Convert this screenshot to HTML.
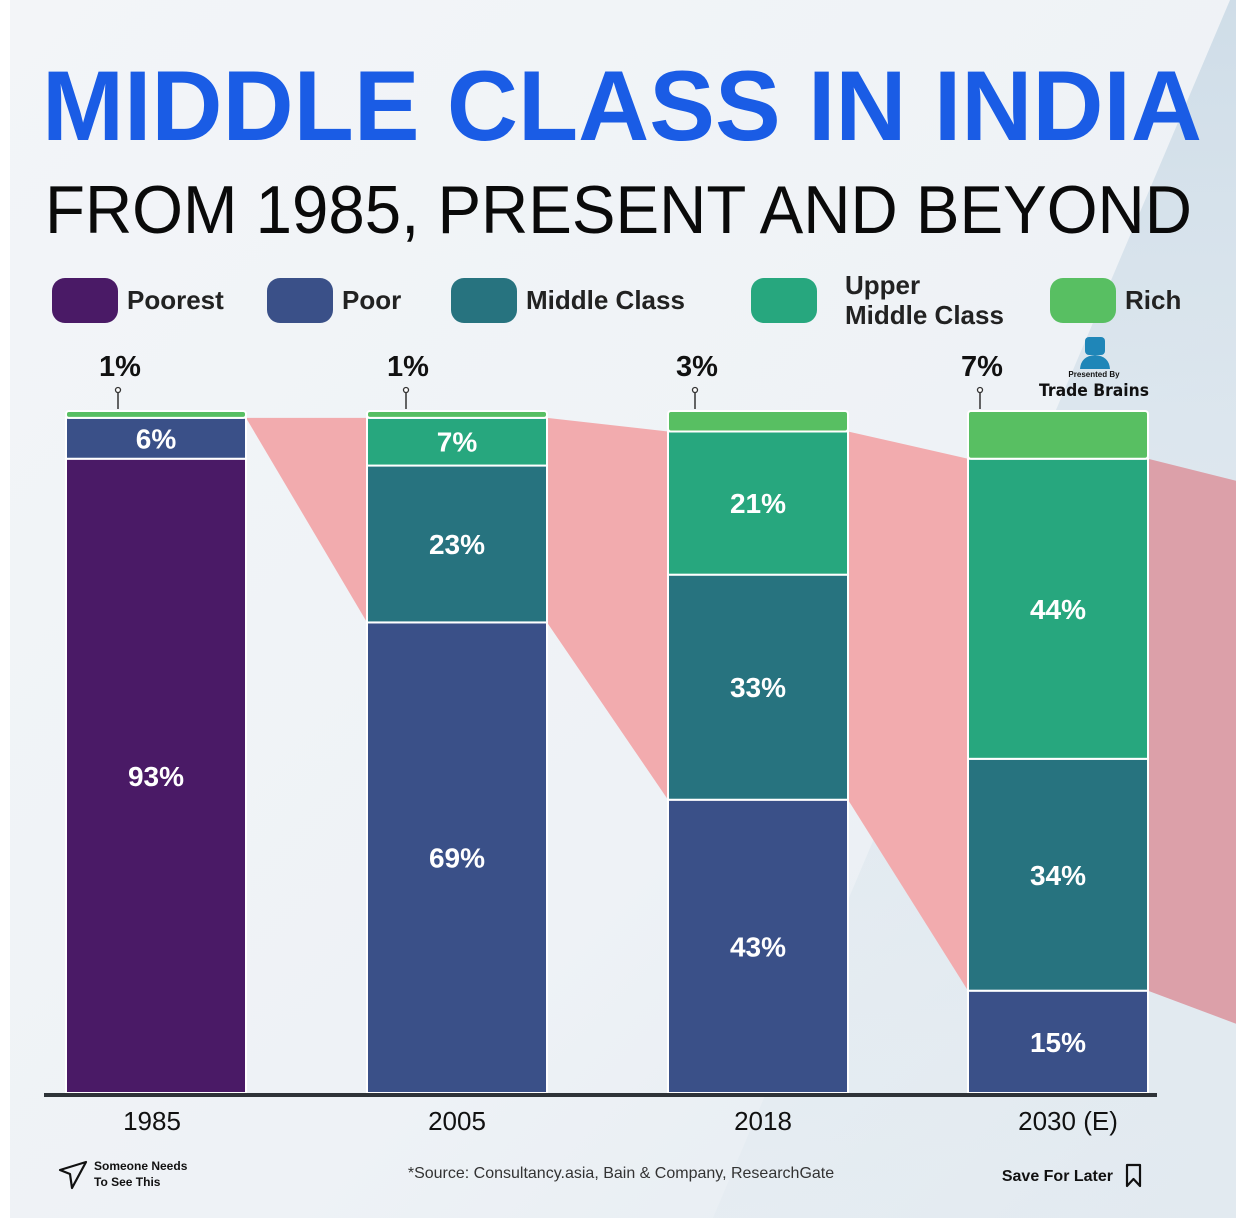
<!DOCTYPE html>
<html><head><meta charset="utf-8"><style>
html,body{margin:0;padding:0;background:#fff;}
svg{display:block;font-family:"Liberation Sans",sans-serif;}
</style></head><body>
<svg id="chart" width="1236" height="1222" viewBox="0 0 1236 1222" xmlns="http://www.w3.org/2000/svg">
<defs>
<linearGradient id="bg" x1="0" y1="0" x2="1" y2="1">
<stop offset="0" stop-color="#f3f5f8"/><stop offset="0.6" stop-color="#eef2f6"/><stop offset="1" stop-color="#e4ebf1"/>
</linearGradient>
<linearGradient id="bg2" x1="0" y1="0" x2="0" y2="1">
<stop offset="0" stop-color="#cfdde8" stop-opacity="1"/><stop offset="0.45" stop-color="#d6e2eb" stop-opacity="0.6"/><stop offset="1" stop-color="#dde7ee" stop-opacity="0.3"/>
</linearGradient>
</defs>
<rect x="0" y="0" width="1236" height="1222" fill="#fff"/>
<rect x="10" y="0" width="1226" height="1218" fill="url(#bg)"/>
<polygon points="1230,0 1236,0 1236,1218 713,1218" fill="url(#bg2)"/>
<text x="42" y="140" font-size="99" font-weight="bold" fill="#1a5ce5" textLength="1160" lengthAdjust="spacingAndGlyphs">MIDDLE CLASS IN INDIA</text>
<text x="45" y="233" font-size="68" fill="#0a0a0a" textLength="1147" lengthAdjust="spacingAndGlyphs">FROM 1985, PRESENT AND BEYOND</text>
<g id="legend"></g>
<g id="pink"></g>
<g id="bars"></g>
<line x1="44" y1="1095" x2="1157" y2="1095" stroke="#2e3338" stroke-width="4"/>
<g id="xlabels"></g>
<g>
<rect x="1085" y="337" width="20" height="18" rx="4" fill="#1f86b8"/>
<path d="M1080,369 Q1081,356 1095,355 Q1109,356 1110,369 Z" fill="#1f86b8"/>
<text x="1094" y="377" font-size="8" font-weight="bold" text-anchor="middle" fill="#111">Presented By</text>
<text x="1094" y="396" font-size="17" font-weight="bold" text-anchor="middle" fill="#111" font-family="DejaVu Sans, sans-serif" textLength="110" lengthAdjust="spacingAndGlyphs">Trade Brains</text>
</g>
<g>
<path d="M60,1170 L86,1162 L72,1188 L70,1174 Z" fill="none" stroke="#111" stroke-width="2.2" stroke-linejoin="round"/>
<text x="94" y="1170" font-size="12" font-weight="bold" fill="#111">Someone Needs</text>
<text x="94" y="1186" font-size="12" font-weight="bold" fill="#111">To See This</text>
</g>
<text x="621" y="1178" font-size="16" text-anchor="middle" fill="#333">*Source: Consultancy.asia, Bain &amp; Company, ResearchGate</text>
<g>
<text x="1113" y="1181" font-size="16" font-weight="bold" text-anchor="end" fill="#111">Save For Later</text>
<path d="M1127,1165 L1140,1165 L1140,1186 L1133.5,1179 L1127,1186 Z" fill="none" stroke="#111" stroke-width="2.2" stroke-linejoin="round"/>
</g>
</svg>
<script>
const years = ["1985","2005","2018","2030 (E)"];
const poorest = [93, 0, 0, 0];
const poor = [6, 69, 43, 15];
const middle = [0, 23, 33, 34];
const upper = [0, 7, 21, 44];
const rich = [1, 1, 3, 7];
const richLabels = ["1%","1%","3%","7%"];
const legendNames = ["Poorest","Poor","Middle Class","Upper Middle Class","Rich"];

const NS="http://www.w3.org/2000/svg";
const colors={poorest:"#4a1a66",poor:"#3a5088",middle:"#27737f",upper:"#27a77e",rich:"#58bf62"};
const plotTop=411, plotBottom=1093, barW=180;
const barX=[66,367,668,968];
const pinOff=[52,39,27,12];
const yearOff=[-4,0,5,10];
function yScale(v){return plotBottom-(v/100)*(plotBottom-plotTop);}
function mk(tag,attrs,parent){const e=document.createElementNS(NS,tag);for(const k in attrs)e.setAttribute(k,attrs[k]);parent.appendChild(e);return e;}

const lg=document.getElementById('legend');
const legColors=[colors.poorest,colors.poor,colors.middle,colors.upper,colors.rich];
const legX=[52,267,451,751,1050];
legendNames.forEach((n,i)=>{
  const g=mk('g',{},lg);
  
  
  mk('rect',{x:legX[i],y:278,width:66,height:45,rx:13,fill:legColors[i]},g);
  if(n==="Upper Middle Class"){
    const t1=mk('text',{x:legX[i]+94,y:294,'font-size':26,'font-weight':'bold',fill:'#222'},g);t1.textContent="Upper";
    const t2=mk('text',{x:legX[i]+94,y:324,'font-size':26,'font-weight':'bold',fill:'#222'},g);t2.textContent="Middle Class";
  } else {
    const t=mk('text',{x:legX[i]+75,y:309,'font-size':26,'font-weight':'bold',fill:'#222'},g);t.textContent=n;
  }
});

const pk=document.getElementById('pink');
for(let i=0;i<years.length;i++){
  const topL=yScale(100-rich[i]), botL=yScale(poor[i]+poorest[i]);
  let x1=barX[i]+barW, x2, topR, botR;
  if(i<years.length-1){x2=barX[i+1];topR=yScale(100-rich[i+1]);botR=yScale(poor[i+1]+poorest[i+1]);}
  else {x2=1236;topR=topL+22;botR=botL+33;}
  const p=mk('polygon',{points:`${x1},${topL} ${x2},${topR} ${x2},${botR} ${x1},${botL}`,fill:i===3?'#dca0a9':'#f2abae'},pk);
  
  
}

const bg=document.getElementById('bars');
const series=[["poorest",poorest],["poor",poor],["middle",middle],["upper",upper],["rich",rich]];
years.forEach((yr,i)=>{
  const g=mk('g',{},bg);
  
  
  let cum=0;
  series.forEach(([k,arr])=>{
    const v=arr[i]; if(!v) return;
    const y0=yScale(cum+v), y1=yScale(cum);
    const r=mk('rect',{x:barX[i],y:y0,width:barW,height:y1-y0,fill:colors[k],stroke:'#fff','stroke-width':2,rx:k==='rich'?3:0},g);
    
    
    if(k!=='rich'){
      const t=mk('text',{x:barX[i]+barW/2,y:(y0+y1)/2+10,'font-size':28,'font-weight':'bold','text-anchor':'middle',fill:'#fff'},g);
      
      
      t.textContent=v+'%';
    }
    cum+=v;
  });
  const cx=barX[i]+pinOff[i];
  mk('line',{x1:cx,y1:392,x2:cx,y2:409,stroke:'#333','stroke-width':1.5},g);
  mk('circle',{cx:cx,cy:390,r:2.5,fill:'#fff',stroke:'#333','stroke-width':1.3},g);
  const rt=mk('text',{x:cx+2,y:376,'font-size':29,'font-weight':'bold','text-anchor':'middle',fill:'#111'},g);
  
  
  rt.textContent=richLabels[i];
  const xl=mk('text',{x:barX[i]+barW/2+yearOff[i],y:1130,'font-size':26,'text-anchor':'middle',fill:'#111'},document.getElementById('xlabels'));
  
  
  xl.textContent=yr;
});
</script>
</body></html>
